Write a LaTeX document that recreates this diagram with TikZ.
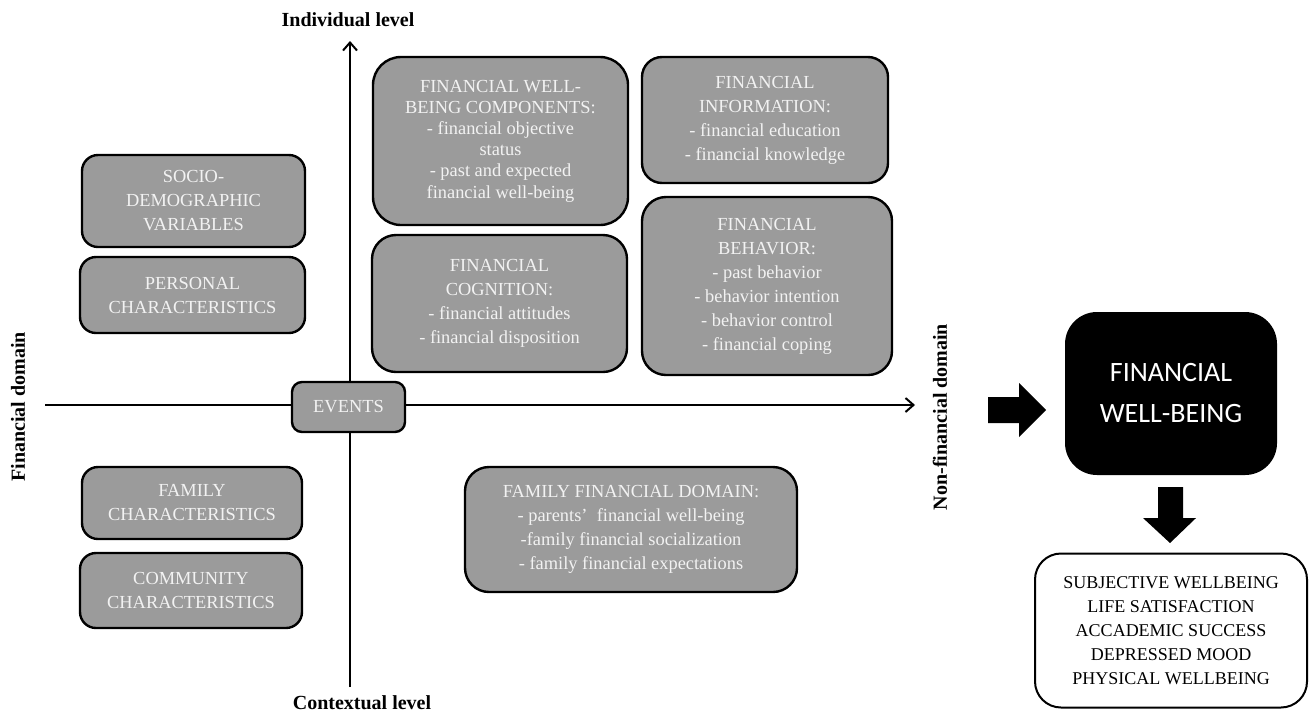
\documentclass[tikz,border=0pt]{standalone}
\usepackage{fontspec}
\setmainfont{Liberation Serif}
\newfontfamily\wbfont{Carlito}
\usetikzlibrary{arrows.meta}

\definecolor{boxgray}{RGB}{155,155,155}
\definecolor{boxtext}{RGB}{242,242,242}

\tikzset{
  graybox/.style={draw=black, line width=1.2pt, fill=boxgray, text=boxtext,
    rounded corners=10pt, align=center, inner sep=0pt,
    font=\fontsize{9.2}{12}\selectfont},
  axislabel/.style={font=\fontsize{10}{12}\selectfont\bfseries},
  axisline/.style={line width=1pt, -{Straight Barb[length=4pt,width=7pt]}},
  fatarrow/.style={fill=black},
}

\begin{document}
\begin{tikzpicture}[x=0.5pt,y=-0.5pt]
\useasboundingbox (0,0) rectangle (1309,718);
% axes
\coordinate (xl) at (45,405);
\coordinate (xr) at (915,405);
\coordinate (yt) at (350,41);
\coordinate (yb) at (350,687);
\draw[axisline] (xl) -- (xr);
\draw[axisline] (yb) -- (yt);
\node[axislabel] (ind) at (348,20) {Individual level};
\node[axislabel] (ctx) at (362,703) {Contextual level};
\node[axislabel, rotate=90] (fin) at (18,407) {Financial domain};
\node[axislabel, rotate=90] (nonfin) at (940,417) {Non-financial domain};
% left column
\node[graybox, minimum width=111.5pt, minimum height=46pt, rounded corners=8pt] (socio) at (193.5,201)
  {SOCIO-\\DEMOGRAPHIC\\VARIABLES};
\node[graybox, minimum width=112.5pt, minimum height=38pt, rounded corners=8pt] (personal) at (192.5,295)
  {PERSONAL\\CHARACTERISTICS};
\node[graybox, minimum width=110pt, minimum height=36pt, rounded corners=8pt] (family) at (192,503)
  {FAMILY\\CHARACTERISTICS};
\node[graybox, minimum width=111pt, minimum height=37.5pt, rounded corners=8pt] (community) at (191,590.5)
  {COMMUNITY\\CHARACTERISTICS};
% centre
\node[graybox, minimum width=56.5pt, minimum height=25pt, rounded corners=5pt] (events) at (348.5,407) {EVENTS};
% upper right quadrant
\node[graybox, minimum width=127.5pt, minimum height=84pt, rounded corners=14pt,
  font=\fontsize{9.2}{10.6}\selectfont] (components) at (500.5,141)
  {FINANCIAL WELL-\\BEING COMPONENTS:\\- financial objective\\status\\- past and expected\\financial well-being};
\node[graybox, minimum width=123pt, minimum height=63pt] (information) at (765,120)
  {FINANCIAL\\INFORMATION:\\- financial education\\- financial knowledge};
\node[graybox, minimum width=127.5pt, minimum height=68.5pt, rounded corners=12pt] (cognition) at (499.5,303.5)
  {FINANCIAL\\COGNITION:\\- financial attitudes\\- financial disposition};
\node[graybox, minimum width=125pt, minimum height=89pt, rounded corners=12pt] (behavior) at (767,286)
  {FINANCIAL\\BEHAVIOR:\\- past behavior\\- behavior intention\\- behavior control\\- financial coping};
% lower right quadrant
\node[graybox, minimum width=166pt, minimum height=62.5pt, rounded corners=12pt] (famdomain) at (631,529.5)
  {FAMILY FINANCIAL DOMAIN:\\- parents’~ financial well-being\\-family financial socialization\\- family financial expectations};
% outcome
\node[fill=black, text=white, rounded corners=16pt, minimum width=106pt, minimum height=81.5pt,
  align=center, inner sep=0pt, font=\wbfont\fontsize{14}{20.5}\selectfont] (wellbeing) at (1171,393.5)
  {FINANCIAL\\WELL-BEING};
\node[draw=black, line width=1pt, fill=white, rounded corners=13pt, minimum width=136pt, minimum height=77pt,
  align=center, inner sep=0pt, font=\fontsize{9}{12}\selectfont] (effects) at (1171,630.5)
  {SUBJECTIVE WELLBEING\\LIFE SATISFACTION\\ACCADEMIC SUCCESS\\DEPRESSED MOOD\\PHYSICAL WELLBEING};
% fat arrows
\fill[fatarrow] (988,397) -- (1019,397) -- (1019,383) -- (1046,410) -- (1019,437) -- (1019,423) -- (988,423) -- cycle;
\fill[fatarrow] (1158,487) -- (1183,487) -- (1183,518) -- (1196,518) -- (1170,543) -- (1143,518) -- (1158,518) -- cycle;
\end{tikzpicture}
\end{document}
